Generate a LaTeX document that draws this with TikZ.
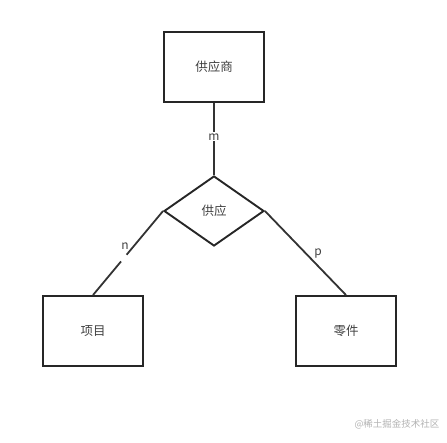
\documentclass[tikz,border=0pt]{standalone}
\usepackage{fontspec}
\setmainfont{Noto Sans CJK SC}
\usetikzlibrary{shapes.geometric,calc}
\begin{document}
\begin{tikzpicture}[x=1pt,y=-1pt,
  entity/.style={draw=black!85, line width=1.9pt, minimum width=100pt, minimum height=70pt, inner sep=0pt, font=\fontsize{12.5}{14}\selectfont, text=black!75},
  relation/.style={draw=black!85, line width=1.9pt, diamond, minimum width=100pt, minimum height=70pt, inner sep=0pt, aspect=1.43},
  conn/.style={draw=black!80, line width=1.8pt},
  cardtext/.style={inner sep=1pt, font=\fontsize{12}{14}\selectfont, text=black!75},
  card/.style={cardtext, fill=white}]
\useasboundingbox (0,0) rectangle (447,442);
\node[entity] (sup) at (214,67) {供应商};
\node[relation] (rel) at (214,211) {};
\node[font=\fontsize{12.5}{14}\selectfont, text=black!75] (reltext) at (214,211) {供应};
\node[entity] (proj) at (93,331) {项目};
\node[entity] (part) at (346,331) {零件};
\draw[conn] (sup.south) -- (rel.north) node[card, pos=0.47] (m) {m};
% left connector, broken next to its label
\coordinate (ga) at ($(rel.west)!0.52!(proj.north)$);
\coordinate (gb) at ($(rel.west)!0.60!(proj.north)$);
\draw[conn] (rel.west) -- (ga);
\draw[conn] (gb) -- (proj.north);
\node[cardtext] (n) at (125,246) {n};
% right connector
\draw[conn] (rel.east) -- (part.north);
\node[cardtext] (p) at (318,254) {p};
\node[font=\fontsize{9.5}{10}\selectfont, text=black!30] (wm) at (397,424) {@稀土掘金技术社区};
\end{tikzpicture}
\end{document}
